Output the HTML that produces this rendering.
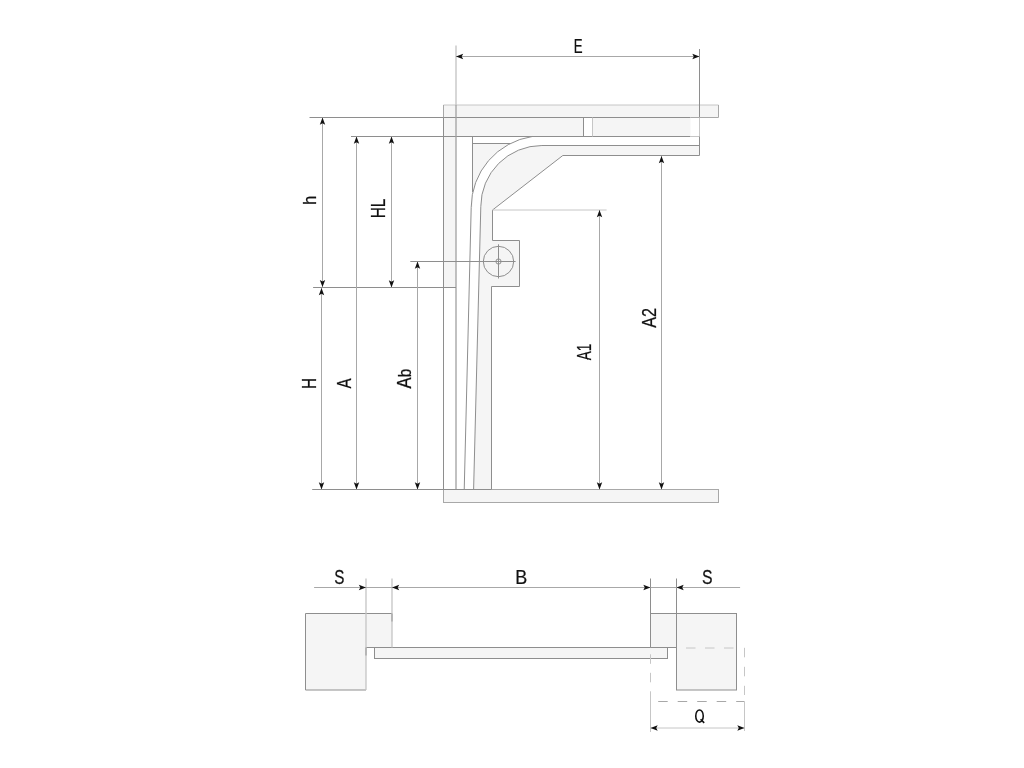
<!DOCTYPE html>
<html><head><meta charset="utf-8"><style>
html,body{margin:0;padding:0;background:#fff;width:1024px;height:768px;overflow:hidden}
svg{display:block}
text{font-family:"Liberation Sans",sans-serif;fill:#111;stroke:#111;stroke-width:0.25px}
svg{will-change:transform}
</style></head><body>
<svg width="1024" height="768" viewBox="0 0 1024 768">
<rect width="1024" height="768" fill="#fff"/>
<rect x="443.5" y="105" width="275.0" height="12.5" fill="#f5f5f5" stroke="none" stroke-width="1"/>
<rect x="443.5" y="117.5" width="12.5" height="170.0" fill="#f5f5f5" stroke="none" stroke-width="1"/>
<rect x="456.0" y="117.5" width="234.5" height="19.0" fill="#f5f5f5" stroke="none" stroke-width="1"/>
<rect x="583.5" y="117.5" width="9.0" height="19.0" fill="#fff" stroke="none" stroke-width="1"/>
<path d="M472.5,143.5 L510.38,143.5 A71.7,71.7 0 0 0 471.20,207.40 L472.5,207.40 Z" fill="#f5f5f5"/>
<path d="M541.9,145.5 L699.5,145.5 L699.5,155.5 L562.8,155.5 L492.5,210 L492.5,240.5 L519.5,240.5 L519.5,286.5 L491.5,286.5 L491.5,489.5 L473.60,489.5 L480.80,206.60 A61.1,61.1 0 0 1 541.9,145.5 Z" fill="#f5f5f5"/>
<rect x="443.5" y="489.5" width="275.0" height="13.0" fill="#f5f5f5" stroke="none" stroke-width="1"/>
<line x1="443.5" y1="105" x2="718.5" y2="105" stroke="#c6c6c6" stroke-width="1" />
<line x1="718.5" y1="105" x2="718.5" y2="117.5" stroke="#a8a8a8" stroke-width="1" />
<line x1="309.5" y1="117.5" x2="690.5" y2="117.5" stroke="#8e8e8e" stroke-width="1" />
<line x1="690.5" y1="117.5" x2="718.5" y2="117.5" stroke="#a8a8a8" stroke-width="1" />
<line x1="351" y1="136.5" x2="690.5" y2="136.5" stroke="#8e8e8e" stroke-width="1" />
<line x1="690.5" y1="136.5" x2="699.5" y2="136.5" stroke="#c6c6c6" stroke-width="1" />
<line x1="541.9" y1="145.5" x2="699.5" y2="145.5" stroke="#8e8e8e" stroke-width="1" />
<line x1="562.8" y1="155.5" x2="699.5" y2="155.5" stroke="#8e8e8e" stroke-width="1" />
<line x1="699.5" y1="49" x2="699.5" y2="117.5" stroke="#8e8e8e" stroke-width="1" />
<line x1="699.5" y1="117.5" x2="699.5" y2="136.5" stroke="#c6c6c6" stroke-width="1" />
<line x1="699.5" y1="136.5" x2="699.5" y2="155.5" stroke="#8e8e8e" stroke-width="1" />
<line x1="583.5" y1="117.5" x2="583.5" y2="136.5" stroke="#8e8e8e" stroke-width="1" />
<line x1="592.5" y1="117.5" x2="592.5" y2="136.5" stroke="#c6c6c6" stroke-width="1" />
<line x1="443.5" y1="105" x2="443.5" y2="117.5" stroke="#a8a8a8" stroke-width="1" />
<line x1="443.5" y1="117.5" x2="443.5" y2="502.5" stroke="#8e8e8e" stroke-width="1" />
<line x1="456.0" y1="45.5" x2="456.0" y2="105" stroke="#bcbcbc" stroke-width="1.2" />
<line x1="456.0" y1="105" x2="456.0" y2="489.5" stroke="#a0a0a0" stroke-width="1.3" />
<line x1="472.5" y1="136.5" x2="472.5" y2="192" stroke="#8e8e8e" stroke-width="1" />
<line x1="472.5" y1="143.5" x2="510.37800744111763" y2="143.5" stroke="#8e8e8e" stroke-width="1" />
<path d="M532.22,136.5 A71.7,71.7 0 0 0 471.20,207.40 L464.23,489.5" fill="none" stroke="#8e8e8e" stroke-width="1"/>
<path d="M541.9,145.5 A61.1,61.1 0 0 0 480.80,206.60 L473.60,489.5" fill="none" stroke="#8e8e8e" stroke-width="1"/>
<path d="M562.8,155.5 L492.5,210 L492.5,240.5 L519.5,240.5 L519.5,286.5 L491.5,286.5 L491.5,489.5" fill="none" stroke="#8e8e8e" stroke-width="1"/>
<circle cx="498.5" cy="261.5" r="15.2" fill="none" stroke="#8e8e8e" stroke-width="1"/>
<circle cx="498.5" cy="261.5" r="2.6" fill="none" stroke="#8e8e8e" stroke-width="1"/>
<line x1="498.5" y1="244.3" x2="498.5" y2="278.5" stroke="#8e8e8e" stroke-width="1" />
<line x1="410.3" y1="261.5" x2="515.6" y2="261.5" stroke="#8e8e8e" stroke-width="1" />
<line x1="492.5" y1="210" x2="606.6" y2="210" stroke="#c6c6c6" stroke-width="1" />
<rect x="443.5" y="489.5" width="275.0" height="13.0" fill="none" stroke="#a8a8a8" stroke-width="1"/>
<line x1="312.2" y1="489.5" x2="491.5" y2="489.5" stroke="#8e8e8e" stroke-width="1" />
<line x1="313.1" y1="287.5" x2="456.0" y2="287.5" stroke="#8e8e8e" stroke-width="1" />
<line x1="456.0" y1="56.5" x2="699.5" y2="56.5" stroke="#a8a8a8" stroke-width="1" />
<polygon points="456.00,56.50 463.20,59.20 461.70,56.50 463.20,53.80" fill="#111"/>
<polygon points="699.50,56.50 692.30,59.20 693.80,56.50 692.30,53.80" fill="#111"/>
<line x1="322.5" y1="117.5" x2="322.5" y2="287.1" stroke="#a8a8a8" stroke-width="1" />
<polygon points="322.50,117.50 325.20,124.70 322.50,123.20 319.80,124.70" fill="#111"/>
<polygon points="322.50,287.10 325.20,279.90 322.50,281.40 319.80,279.90" fill="#111"/>
<line x1="321.5" y1="288.1" x2="321.5" y2="489.5" stroke="#a8a8a8" stroke-width="1" />
<polygon points="321.50,288.10 324.20,295.30 321.50,293.80 318.80,295.30" fill="#111"/>
<polygon points="321.50,489.50 324.20,482.30 321.50,483.80 318.80,482.30" fill="#111"/>
<line x1="356.5" y1="136.5" x2="356.5" y2="489.5" stroke="#a8a8a8" stroke-width="1" />
<polygon points="356.50,136.50 359.20,143.70 356.50,142.20 353.80,143.70" fill="#111"/>
<polygon points="356.50,489.50 359.20,482.30 356.50,483.80 353.80,482.30" fill="#111"/>
<line x1="391.5" y1="136.5" x2="391.5" y2="287.5" stroke="#a8a8a8" stroke-width="1" />
<polygon points="391.50,136.50 394.20,143.70 391.50,142.20 388.80,143.70" fill="#111"/>
<polygon points="391.50,287.50 394.20,280.30 391.50,281.80 388.80,280.30" fill="#111"/>
<line x1="417.5" y1="261.5" x2="417.5" y2="489.5" stroke="#a8a8a8" stroke-width="1" />
<polygon points="417.50,261.50 420.20,268.70 417.50,267.20 414.80,268.70" fill="#111"/>
<polygon points="417.50,489.50 420.20,482.30 417.50,483.80 414.80,482.30" fill="#111"/>
<line x1="599.5" y1="210" x2="599.5" y2="489.5" stroke="#a8a8a8" stroke-width="1" />
<polygon points="599.50,210.00 602.20,217.20 599.50,215.70 596.80,217.20" fill="#111"/>
<polygon points="599.50,489.50 602.20,482.30 599.50,483.80 596.80,482.30" fill="#111"/>
<line x1="661.5" y1="156.1" x2="661.5" y2="489.5" stroke="#a8a8a8" stroke-width="1" />
<polygon points="661.50,156.10 664.20,163.30 661.50,161.80 658.80,163.30" fill="#111"/>
<polygon points="661.50,489.50 664.20,482.30 661.50,483.80 658.80,482.30" fill="#111"/>
<rect x="305.5" y="613.5" width="60.5" height="76.5" fill="#f5f5f5" stroke="none" stroke-width="1"/>
<line x1="305.5" y1="613.5" x2="366" y2="613.5" stroke="#8e8e8e" stroke-width="1" />
<line x1="305.5" y1="613.5" x2="305.5" y2="690" stroke="#8e8e8e" stroke-width="1" />
<line x1="305.5" y1="690" x2="366" y2="690" stroke="#8e8e8e" stroke-width="1" />
<rect x="366" y="613.5" width="26" height="34.0" fill="#f5f5f5" stroke="none" stroke-width="1"/>
<line x1="366" y1="613.5" x2="392" y2="613.5" stroke="#8e8e8e" stroke-width="1" />
<line x1="366" y1="647.5" x2="392" y2="647.5" stroke="#8e8e8e" stroke-width="1" />
<rect x="374.5" y="647.5" width="293.0" height="11.0" fill="#f5f5f5" stroke="#8e8e8e" stroke-width="1"/>
<rect x="650.5" y="613.5" width="26.0" height="34.0" fill="#f5f5f5" stroke="none" stroke-width="1"/>
<line x1="650.5" y1="613.5" x2="676.5" y2="613.5" stroke="#8e8e8e" stroke-width="1" />
<line x1="650.5" y1="647.5" x2="676.5" y2="647.5" stroke="#8e8e8e" stroke-width="1" />
<rect x="676.5" y="613.5" width="60.0" height="76.5" fill="#f5f5f5" stroke="#8e8e8e" stroke-width="1"/>
<line x1="366" y1="578.5" x2="366" y2="690" stroke="#c4c4c4" stroke-width="1.3" />
<line x1="366" y1="647.5" x2="366" y2="655.5" stroke="#a0a0a0" stroke-width="1.2" />
<line x1="392" y1="578.5" x2="392" y2="647.5" stroke="#c4c4c4" stroke-width="1.3" />
<line x1="392" y1="613.5" x2="392" y2="621.5" stroke="#a0a0a0" stroke-width="1.2" />
<line x1="650.5" y1="578.5" x2="650.5" y2="647.5" stroke="#8e8e8e" stroke-width="1" />
<line x1="676.5" y1="578.5" x2="676.5" y2="690" stroke="#8e8e8e" stroke-width="1" />
<line x1="650.5" y1="654.3" x2="650.5" y2="701" stroke="#c6c6c6" stroke-width="1" stroke-dasharray="9.5,9"/>
<line x1="650.5" y1="692" x2="650.5" y2="732" stroke="#c6c6c6" stroke-width="1" />
<line x1="686" y1="648" x2="736" y2="648" stroke="#c6c6c6" stroke-width="1" stroke-dasharray="9.5,9.5"/>
<line x1="744.5" y1="647.8" x2="744.5" y2="695" stroke="#c6c6c6" stroke-width="1" stroke-dasharray="9.5,9.5"/>
<line x1="658.2" y1="701.5" x2="744.5" y2="701.5" stroke="#a8a8a8" stroke-width="1" stroke-dasharray="9.5,10"/>
<line x1="744.5" y1="701.5" x2="744.5" y2="731" stroke="#c6c6c6" stroke-width="1" />
<line x1="314.1" y1="587.5" x2="740.1" y2="587.5" stroke="#a8a8a8" stroke-width="1" />
<polygon points="366.00,587.50 358.80,590.20 360.30,587.50 358.80,584.80" fill="#111"/>
<polygon points="392.00,587.50 399.20,590.20 397.70,587.50 399.20,584.80" fill="#111"/>
<polygon points="650.50,587.50 643.30,590.20 644.80,587.50 643.30,584.80" fill="#111"/>
<polygon points="676.50,587.50 683.70,590.20 682.20,587.50 683.70,584.80" fill="#111"/>
<line x1="650.5" y1="728" x2="744.5" y2="728" stroke="#c6c6c6" stroke-width="1" />
<polygon points="650.50,728.00 657.70,730.70 656.20,728.00 657.70,725.30" fill="#111"/>
<polygon points="744.50,728.00 737.30,730.70 738.80,728.00 737.30,725.30" fill="#111"/>
<ellipse cx="699.5" cy="716" rx="3.75" ry="6.1" fill="none" stroke="#111" stroke-width="1.55"/>
<line x1="700.6" y1="719.3" x2="704.2" y2="722.9" stroke="#111" stroke-width="1.6"/>
<text transform="translate(573.84,52.85) scale(0.675,1)" font-size="19.6">E</text>
<text transform="translate(316.33,204.79) rotate(-90) scale(0.909,1)" font-size="17.74">h</text>
<text transform="translate(385.07,218.3) rotate(-90) scale(0.786,1)" font-size="19.6">HL</text>
<text transform="translate(315.6,389.09) rotate(-90) scale(0.779,1)" font-size="19.6">H</text>
<text transform="translate(350.63,388.61) rotate(-90) scale(0.769,1)" font-size="19.6">A</text>
<text transform="translate(410.74,388.46) rotate(-90) scale(0.848,1)" font-size="19.6">A<tspan font-size="17.9">b</tspan></text>
<text transform="translate(591.36,360.24) rotate(-90) scale(0.686,1)" font-size="19.6">A1</text>
<text transform="translate(656.48,327.86) rotate(-90) scale(0.825,1)" font-size="19.6">A2</text>
<text transform="translate(334.13,583.97) scale(0.778,1)" font-size="19.6">S</text>
<text transform="translate(515.21,584.06) scale(0.915,1)" font-size="19.6">B</text>
<text transform="translate(702.04,583.53) scale(0.807,1)" font-size="19.6">S</text>
</svg>
</body></html>
